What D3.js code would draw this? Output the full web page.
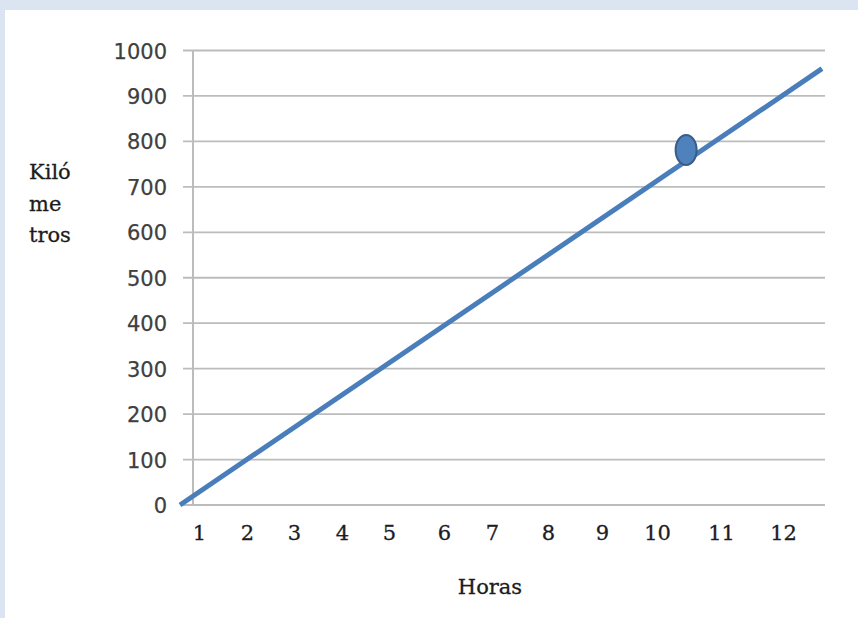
<!DOCTYPE html>
<html>
<head>
<meta charset="utf-8">
<script src="https://cdn.jsdelivr.net/npm/d3@7"></script>
<style>
  html, body { margin: 0; padding: 0; background: #ffffff; }
  svg { display: block; }
</style>
</head>
<body>
<svg id="chart" width="858" height="618"></svg>
<script>
// Distance travelled over time: one straight run plus one highlighted reading.
const lineHours = [0, 12];
const lineKm = [0, 960];
const markHour = 9.46;
const markKm = 781;

// Kilometre gridlines / tick labels.
const yTicks = [0, 100, 200, 300, 400, 500, 600, 700, 800, 900, 1000];

// Hour labels along the bottom and where each one sits on the hour axis.
const xLabels = ["1", "2", "3", "4", "5", "6", "7", "8", "9", "10", "11", "12"];
const xLabelAt = [0.355, 1.252, 2.131, 3.028, 3.907, 4.935, 5.832, 6.879, 7.888, 8.916, 10.112, 11.271];

const yTitle = ["Kiló", "me", "tros"];
const xTitle = "Horas";

const W = 858, H = 618;
const svg = d3.select("#chart");

// light blue frame along the top and left edge
svg.append("rect").attr("x", 0).attr("y", 0).attr("width", W).attr("height", H).attr("fill", "#dbe5f1");
svg.append("rect").attr("x", 5).attr("y", 10).attr("width", W - 5).attr("height", H - 10).attr("fill", "#ffffff");

const x = d3.scaleLinear().domain([0, 12]).range([180, 822]);
const y = d3.scaleLinear().domain([0, 1000]).range([505, 50.5]);

const axisX = 193, gridLeft = 183, gridRight = 825;
const gridColor = "#bcbcbc";

// horizontal gridlines
svg.append("g")
  .selectAll("line")
  .data(yTicks)
  .join("line")
  .attr("x1", gridLeft).attr("x2", gridRight)
  .attr("y1", d => y(d)).attr("y2", d => y(d))
  .attr("stroke", gridColor).attr("stroke-width", 1.8);

// vertical axis line
svg.append("line")
  .attr("x1", axisX).attr("x2", axisX)
  .attr("y1", y(1000)).attr("y2", y(0))
  .attr("stroke", gridColor).attr("stroke-width", 2);

// kilometre labels
const yAxis = d3.axisLeft(y).tickValues(yTicks).tickSize(0).tickPadding(0).tickFormat(d3.format("d"));
const yg = svg.append("g").attr("transform", `translate(167,0)`).call(yAxis);
yg.select(".domain").remove();
yg.selectAll("text")
  .attr("font-family", "DejaVu Sans")
  .attr("font-size", 21)
  .attr("fill", "#404040")
  .attr("stroke", "#404040")
  .attr("stroke-width", 0.25)
  .attr("dy", "0.36em");

// hour labels
const xAxis = d3.axisBottom(x).tickValues(xLabelAt).tickSize(0).tickPadding(0)
  .tickFormat((d, i) => xLabels[i]);
const xg = svg.append("g").attr("transform", `translate(0,540)`).call(xAxis);
xg.select(".domain").remove();
xg.selectAll("text")
  .attr("font-family", "DejaVu Serif")
  .attr("font-size", 21)
  .attr("fill", "#1c1c28")
  .attr("stroke", "#1c1c28")
  .attr("stroke-width", 0.3)
  .attr("dy", 0);

// distance line
const pts = lineHours.map((h, i) => [h, lineKm[i]]);
svg.append("path")
  .datum(pts)
  .attr("d", d3.line().x(d => x(d[0])).y(d => y(d[1])))
  .attr("fill", "none")
  .attr("stroke", "#4a7ebb")
  .attr("stroke-width", 5);

// highlighted reading
svg.append("ellipse")
  .attr("cx", x(markHour)).attr("cy", y(markKm))
  .attr("rx", 10.5).attr("ry", 15)
  .attr("fill", "#4f81bd")
  .attr("stroke", "#385d8a")
  .attr("stroke-width", 2);

// axis titles
svg.append("text")
  .attr("font-family", "DejaVu Serif")
  .attr("font-size", 21)
  .attr("fill", "#1c1c1c")
  .attr("stroke", "#1c1c1c")
  .attr("stroke-width", 0.3)
  .selectAll("tspan")
  .data(yTitle)
  .join("tspan")
  .attr("x", 29)
  .attr("y", (d, i) => 179 + i * 31.5)
  .text(d => d);

svg.append("text")
  .attr("x", 490).attr("y", 594)
  .attr("text-anchor", "middle")
  .attr("font-family", "DejaVu Serif")
  .attr("font-size", 21)
  .attr("fill", "#1c1c1c")
  .attr("stroke", "#1c1c1c")
  .attr("stroke-width", 0.3)
  .text(xTitle);
</script>
</body>
</html>
